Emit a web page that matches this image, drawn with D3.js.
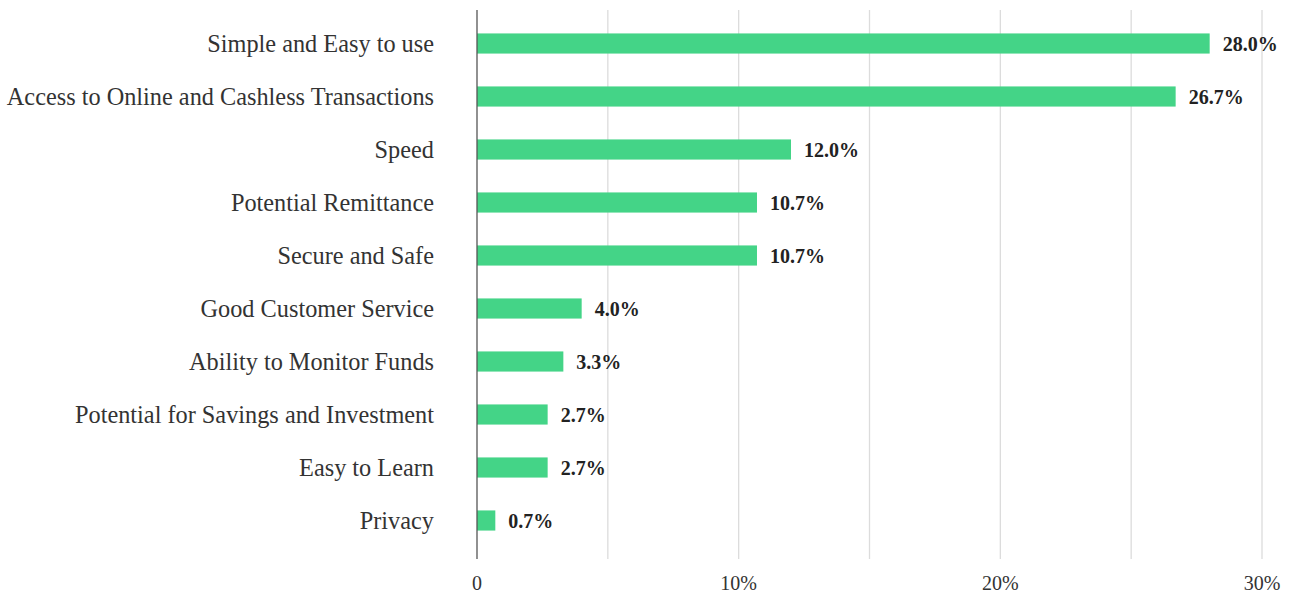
<!DOCTYPE html>
<html><head><meta charset="utf-8">
<script src="https://cdn.jsdelivr.net/npm/d3@7"></script>
<style>body{margin:0;background:#fff}svg{display:block}</style>
</head><body>
<svg id="c" width="1293" height="597"></svg>
<script>
const categories = ["Simple and Easy to use","Access to Online and Cashless Transactions","Speed","Potential Remittance","Secure and Safe","Good Customer Service","Ability to Monitor Funds","Potential for Savings and Investment","Easy to Learn","Privacy"];
const values = [28.0, 26.7, 12.0, 10.7, 10.7, 4.0, 3.3, 2.7, 2.7, 0.7];
const tickValues = [0, 10, 20, 30];
const tickLabels = ["0", "10%", "20%", "30%"];
const gridValues = [5, 10, 15, 20, 25, 30];

const svg = d3.select("#c");
const x = d3.scaleLinear().domain([0, 30]).range([477, 1262]);
const y = d3.scaleBand().domain(categories).range([17, 547]).paddingInner(0.62).paddingOuter(0.31);
const font = "'Liberation Serif', serif";

svg.append("g").selectAll("line").data(gridValues).join("line")
  .attr("x1", d => x(d)).attr("x2", d => x(d)).attr("y1", 10).attr("y2", 559)
  .attr("stroke", "#dcdcdc").attr("stroke-width", 1.3);

svg.append("g").selectAll("rect").data(values).join("rect")
  .attr("x", x(0)).attr("y", (d, i) => y(categories[i]))
  .attr("width", d => x(d) - x(0)).attr("height", y.bandwidth())
  .attr("fill", "#44d487");

svg.append("line").attr("x1", x(0)).attr("x2", x(0)).attr("y1", 10).attr("y2", 559)
  .attr("stroke", "#555").attr("stroke-width", 1.3);

svg.append("g").selectAll("text").data(categories).join("text")
  .attr("x", 434).attr("y", d => y(d) + y.bandwidth() / 2).attr("dy", "0.33em")
  .attr("text-anchor", "end").attr("font-family", font).attr("font-size", 24.3).attr("fill", "#333")
  .text(d => d);

svg.append("g").selectAll("text").data(values).join("text")
  .attr("x", d => x(d) + 13).attr("y", (d, i) => y(categories[i]) + y.bandwidth() / 2).attr("dy", "0.35em")
  .attr("font-family", font).attr("font-size", 20).attr("font-weight", "bold").attr("fill", "#222")
  .text(d => d.toFixed(1) + "%");

svg.append("g").selectAll("text").data(tickValues).join("text")
  .attr("x", d => x(d)).attr("y", 590).attr("text-anchor", "middle")
  .attr("font-family", font).attr("font-size", 20).attr("fill", "#333")
  .text((d, i) => tickLabels[i]);
</script>
</body></html>
